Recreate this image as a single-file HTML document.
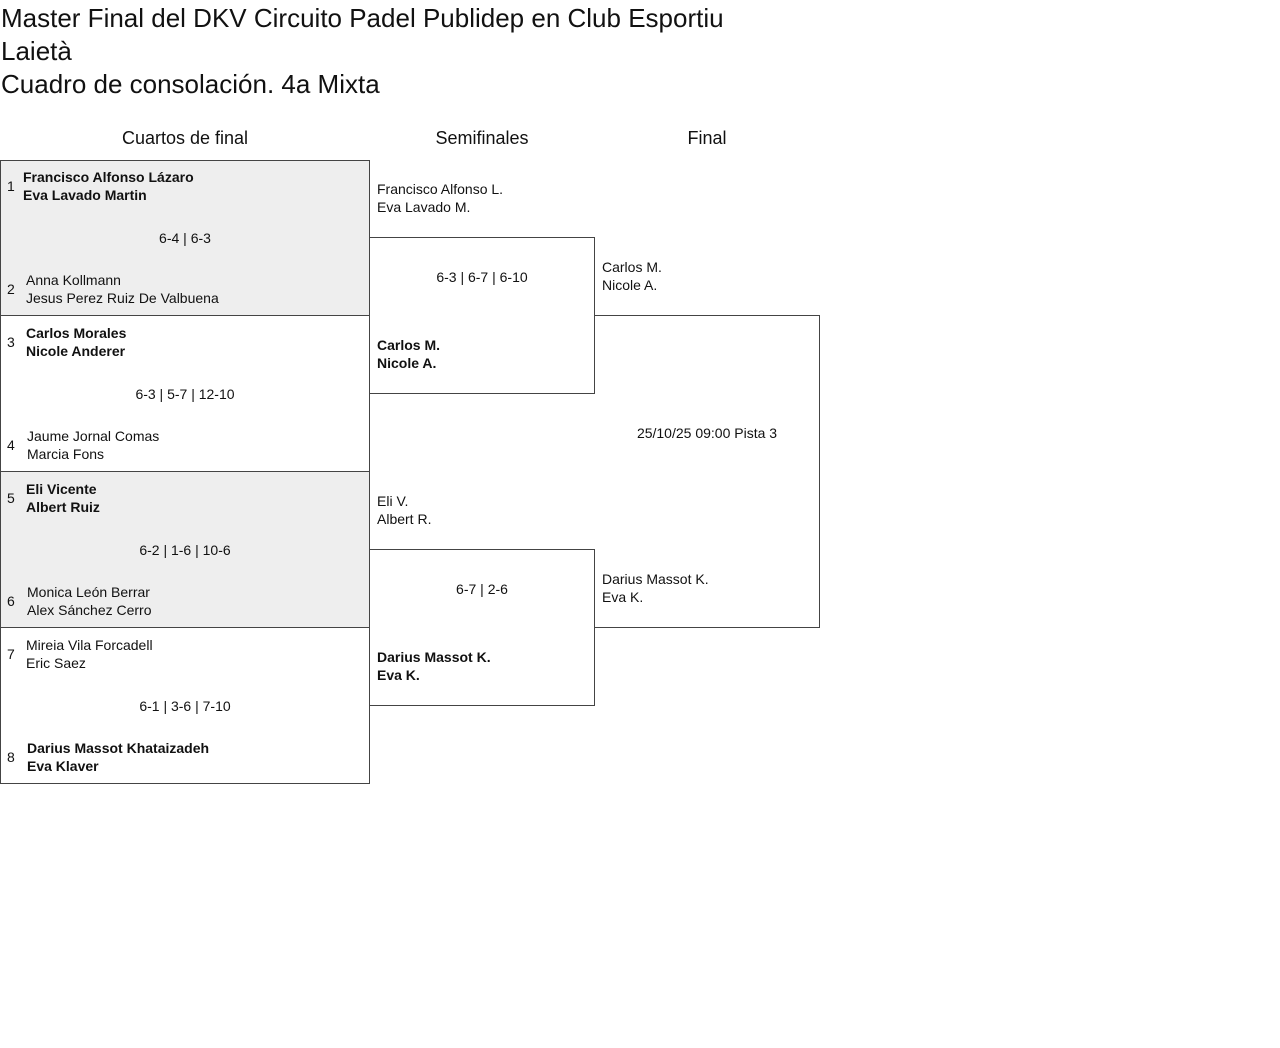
<!DOCTYPE html>
<html><head><meta charset="utf-8"><style>
body{margin:0;background:#fff;font-family:"Liberation Sans",sans-serif;color:#111;width:1280px;height:1048px;position:relative;overflow:hidden}
h1{position:absolute;left:1px;top:2px;margin:0;width:900px;font-size:26px;font-weight:500;line-height:33px}
.hd{position:absolute;top:128px;font-size:18px;font-weight:500;text-align:center}
.b{position:absolute;border:1px solid #444;box-sizing:border-box}
.g{background:#eee}
.t{position:absolute;font-size:14px;line-height:18px;white-space:nowrap}
.w{font-weight:bold}
.c{text-align:center}
</style></head><body>
<h1>Master Final del DKV Circuito Padel Publidep en Club Esportiu<br>Laietà<br>Cuadro de consolación. 4a Mixta</h1>
<div class="hd" style="left:0;width:370px">Cuartos de final</div>
<div class="hd" style="left:369px;width:226px">Semifinales</div>
<div class="hd" style="left:594px;width:226px">Final</div>

<div class="b g" style="left:0;top:160px;width:370px;height:156px"></div>
<div class="b" style="left:0;top:315px;width:370px;height:157px"></div>
<div class="b g" style="left:0;top:471px;width:370px;height:157px"></div>
<div class="b" style="left:0;top:627px;width:370px;height:157px"></div>
<div class="b" style="left:594px;top:315px;width:226px;height:313px;border-left:none"></div>
<div class="b" style="left:369px;top:237px;width:226px;height:157px"></div>
<div class="b" style="left:369px;top:549px;width:226px;height:157px"></div>

<div class="t" style="left:7px;top:177px">1</div>
<div class="t w" style="left:23px;top:168px">Francisco Alfonso Lázaro<br>Eva Lavado Martin</div>
<div class="t c" style="left:0;width:370px;top:229px">6-4 | 6-3</div>
<div class="t" style="left:7px;top:280px">2</div>
<div class="t" style="left:26px;top:271px">Anna Kollmann<br>Jesus Perez Ruiz De Valbuena</div>

<div class="t" style="left:7px;top:333px">3</div>
<div class="t w" style="left:26px;top:324px">Carlos Morales<br>Nicole Anderer</div>
<div class="t c" style="left:0;width:370px;top:385px">6-3 | 5-7 | 12-10</div>
<div class="t" style="left:7px;top:436px">4</div>
<div class="t" style="left:27px;top:427px">Jaume Jornal Comas<br>Marcia Fons</div>

<div class="t" style="left:7px;top:489px">5</div>
<div class="t w" style="left:26px;top:480px">Eli Vicente<br>Albert Ruiz</div>
<div class="t c" style="left:0;width:370px;top:541px">6-2 | 1-6 | 10-6</div>
<div class="t" style="left:7px;top:592px">6</div>
<div class="t" style="left:27px;top:583px">Monica León Berrar<br>Alex Sánchez Cerro</div>

<div class="t" style="left:7px;top:645px">7</div>
<div class="t" style="left:26px;top:636px">Mireia Vila Forcadell<br>Eric Saez</div>
<div class="t c" style="left:0;width:370px;top:697px">6-1 | 3-6 | 7-10</div>
<div class="t" style="left:7px;top:748px">8</div>
<div class="t w" style="left:27px;top:739px">Darius Massot Khataizadeh<br>Eva Klaver</div>

<div class="t" style="left:377px;top:180px">Francisco Alfonso L.<br>Eva Lavado M.</div>
<div class="t c" style="left:369px;width:226px;top:268px">6-3 | 6-7 | 6-10</div>
<div class="t w" style="left:377px;top:336px">Carlos M.<br>Nicole A.</div>
<div class="t" style="left:377px;top:492px">Eli V.<br>Albert R.</div>
<div class="t c" style="left:369px;width:226px;top:580px">6-7 | 2-6</div>
<div class="t w" style="left:377px;top:648px">Darius Massot K.<br>Eva K.</div>

<div class="t" style="left:602px;top:258px">Carlos M.<br>Nicole A.</div>
<div class="t c" style="left:594px;width:226px;top:424px">25/10/25 09:00 Pista 3</div>
<div class="t" style="left:602px;top:570px">Darius Massot K.<br>Eva K.</div>
</body></html>
